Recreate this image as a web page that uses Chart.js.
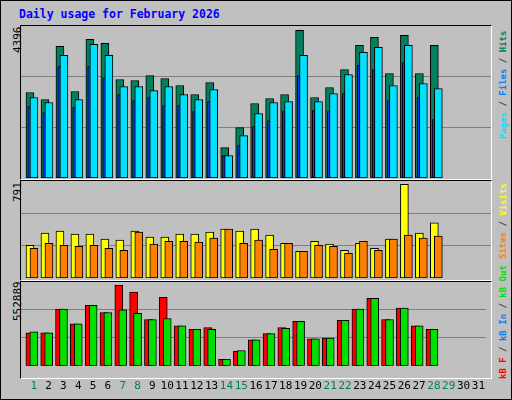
<!DOCTYPE html>
<html><head><meta charset="utf-8">
<script src="https://cdn.jsdelivr.net/npm/chart.js"></script>
<style>
body{margin:0;background:#fff}
#wrap{position:absolute;left:0;top:0;width:510px;height:398px;background:#C0C0C0;border:1px solid #000;font-family:"DejaVu Sans Mono",monospace}
.abs{position:absolute}
.panel{position:absolute;left:19px;width:472px;border-left:1px solid #000;border-top:1px solid #000;border-right:1px solid #fff;border-bottom:1px solid #fff;box-sizing:border-box}
canvas{position:absolute}
.vt{position:absolute;transform-origin:0 0;transform:rotate(-90deg);white-space:nowrap;font-size:11px}
.rl{position:absolute;transform-origin:0 0;transform:rotate(-90deg);white-space:nowrap;font-size:9px;font-weight:bold}
</style></head><body>
<div id="wrap">
<div class="abs" style="left:18px;top:6px;color:#0000FF;font-weight:bold;font-size:11.5px">Daily usage for February 2026</div>
<div class="panel" style="top:24px;height:155px"></div>
<div class="panel" style="top:179px;height:101px"></div>
<div class="panel" style="top:280px;height:98px"></div>
<div class="vt" style="left:10px;top:52px">4396</div>
<div class="vt" style="left:10px;top:201px">791</div>
<div class="vt" style="left:10px;top:320px">552889</div>
<div class="rl" style="left:497px;top:138px"><span style="color:#00E0FF">Pages</span><span style="color:#444"> / </span><span style="color:#0080FF">Files</span><span style="color:#444"> / </span><span style="color:#00805C">Hits</span></div>
<div class="rl" style="left:497px;top:258px"><span style="color:#FF8000">Sites</span><span style="color:#444"> / </span><span style="color:#FFFF00">Visits</span></div>
<div class="rl" style="left:497px;top:378px"><span style="color:#FF0000">kB F</span><span style="color:#444"> / </span><span style="color:#0080FF">kB In</span><span style="color:#444"> / </span><span style="color:#00E000">kB Out</span></div>
<canvas id="c1" class="abs" style="left:20px;top:25px"></canvas>
<canvas id="c2" class="abs" style="left:20px;top:180px"></canvas>
<canvas id="c3" class="abs" style="left:20px;top:281px"></canvas>
</div>
<script>
const days=[1,2,3,4,5,6,7,8,9,10,11,12,13,14,15,16,17,18,19,20,21,22,23,24,25,26,27,28];
const dayLabels=["1","2","3","4","5","6","7","8","9","10","11","12","13","14","15","16","17","18","19","20","21","22","23","24","25","26","27","28","29","30","31"];
const weekendDays=[1,7,8,14,15,21,22,28,29];
const hits=[2546,2337,3919,2576,4128,4008,2934,2904,3053,2964,2755,2487,2845,905,1502,2218,2367,2487,4396,2397,2695,3232,3949,4187,3113,4247,3113,3949];
const files=[2397,2248,3650,2337,3978,3650,2725,2725,2606,2725,2487,2337,2636,666,1263,1920,2248,2278,3650,2278,2516,3083,3740,3889,2755,3949,2815,2666];
const pages=[2128,1949,3322,2099,3322,2994,2487,2307,2397,2158,2158,1979,2278,666,965,1532,1711,1979,3053,2009,1979,2516,3352,3232,2307,3441,2397,1741];
const visits=[277,380,397,371,371,328,320,397,346,346,371,371,388,414,397,414,363,294,226,311,286,234,294,251,328,791,380,466];
const sites=[251,294,277,268,277,251,234,388,286,311,311,303,337,414,294,320,243,294,226,277,268,208,311,234,328,363,337,354];
const kbF=[226000,226000,389000,287000,414000,365000,552889,504000,317000,468000,274000,250000,262000,44000,99000,178000,220000,262000,305000,184000,190000,311000,389000,462000,317000,395000,274000,250000];
const kbIn=[2500,2500,2500,2500,2500,2500,2500,2500,2500,2500,2500,2500,2500,2500,2500,2500,2500,2500,2500,2500,2500,2500,2500,2500,2500,2500,2500,2500];
const kbOut=[232000,226000,389000,287000,414000,365000,383000,359000,317000,323000,274000,250000,250000,44000,105000,178000,220000,256000,305000,184000,190000,311000,389000,462000,317000,395000,274000,250000];

const XMIN=0.267, XMAX=31.65;
function ds(vals,off,color,thick,order){
  return {data:vals.map((v,i)=>({x:days[i]+off,y:v})),backgroundColor:color,borderColor:'#000',borderWidth:1,borderSkipped:false,barThickness:thick,grouped:false,order:order};
}
function mk(id,w,h,ymax,sets,showX){
  const c=document.getElementById(id);c.width=w;c.height=h;c.style.width=w+'px';c.style.height=h+'px';
  return new Chart(c,{type:'bar',data:{datasets:sets},options:{
    responsive:false,animation:false,devicePixelRatio:1,
    layout:{padding:0},
    plugins:{legend:{display:false},tooltip:{enabled:false}},
    scales:{
      x:{type:'linear',min:XMIN,max:XMAX,display:showX,offset:false,
         grid:{display:false},border:{display:false},
         afterBuildTicks:s=>{s.ticks=dayLabels.map((l,i)=>({value:i+1.13}));},
         ticks:{autoSkip:false,maxRotation:0,padding:6,font:{family:'DejaVu Sans Mono',size:11},
           callback:(v,i)=>dayLabels[i],
           color:ctx=>weekendDays.includes(ctx.index+1)?'#00805C':'#000'}},
      y:{min:0,max:ymax,afterBuildTicks:s=>{s.ticks=[{value:ymax/3},{value:2*ymax/3}];},
         ticks:{display:false},grid:{color:'#808080',lineWidth:1,drawTicks:false},border:{display:false}}
    }}});
}
mk('c1',470,152,4527,[ds(hits,-0.133,'#00805C',8,3),ds(pages,-0.18,'#0040FF',3,2),ds(files,0.133,'#00E0FF',8,1)],false);
mk('c2',470,97,820,[ds(visits,-0.133,'#FFFF00',8,2),ds(sites,0.133,'#FF8000',8,1)],false);
mk('c3',470,117,573500,[ds(kbF,-0.133,'#FF0000',8,3),ds(kbIn,-0.18,'#0080FF',3,2),ds(kbOut,0.133,'#00E000',8,1)],true);
</script>
</body></html>
